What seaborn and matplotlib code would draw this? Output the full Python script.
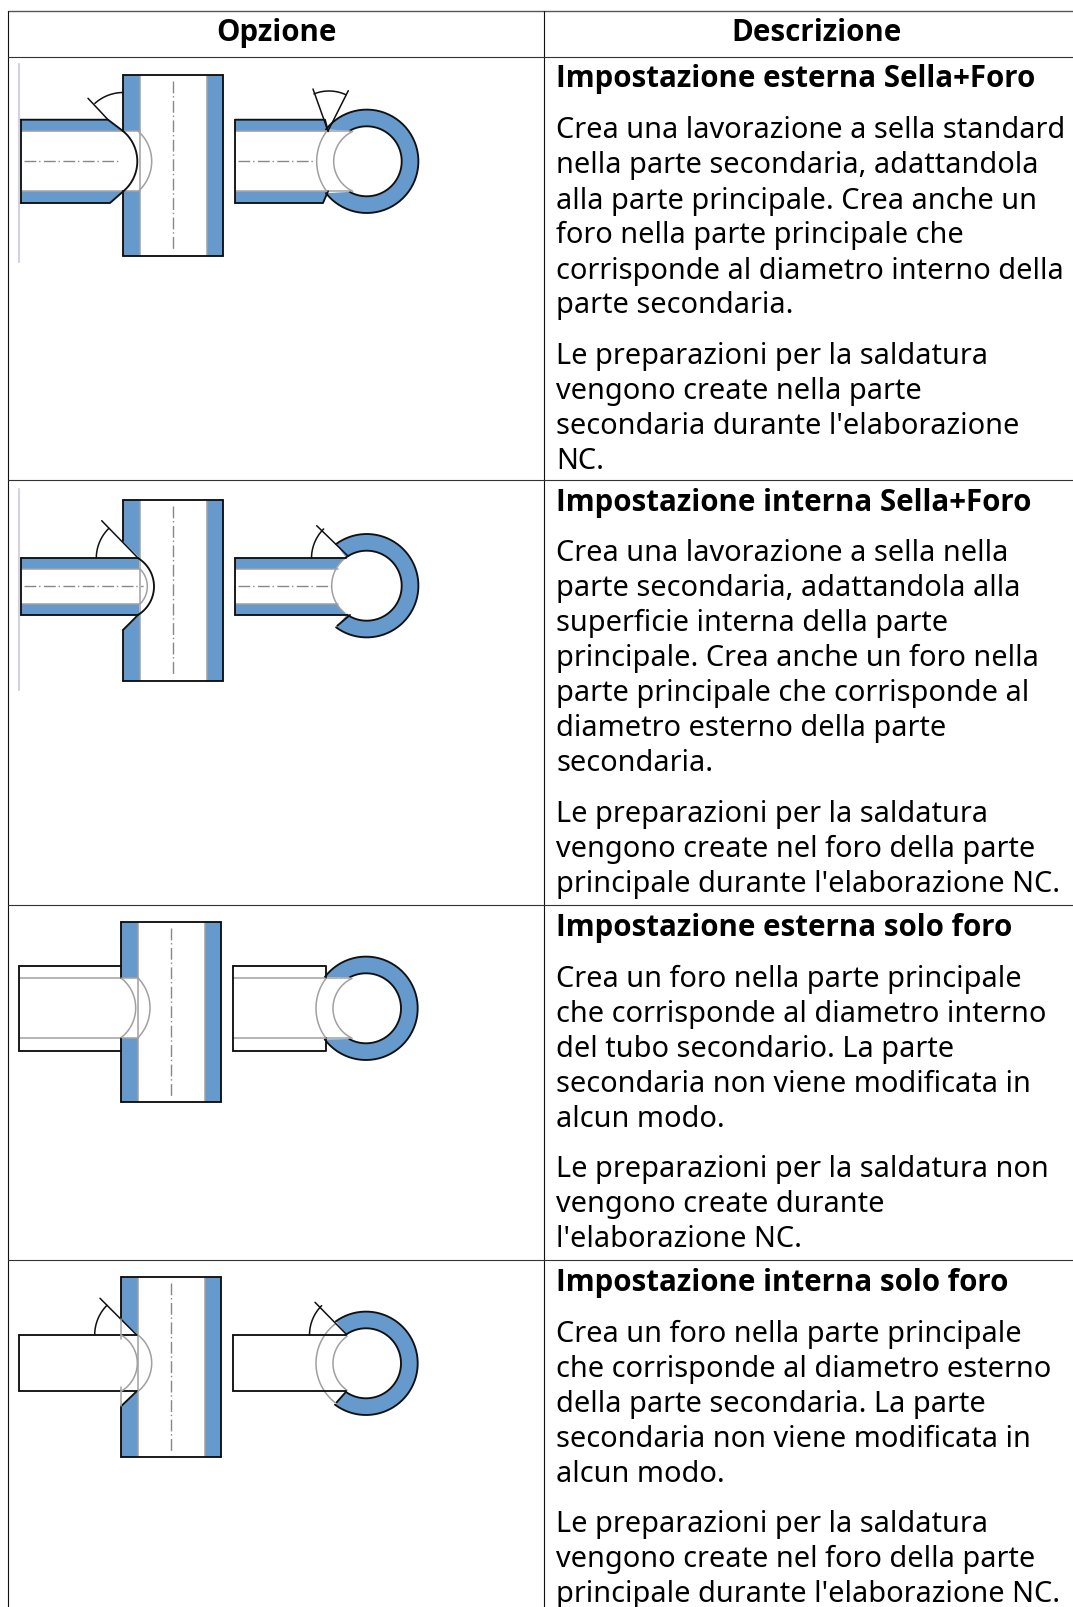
import numpy as np
import matplotlib
matplotlib.use("Agg")
import matplotlib.pyplot as plt
import seaborn as sns

# ── Table text ────────────────────────────────────────────────────────────────
headers = ["Opzione", "Descrizione"]
titles = [
    "Impostazione esterna Sella+Foro",
    "Impostazione interna Sella+Foro",
    "Impostazione esterna solo foro",
    "Impostazione interna solo foro",
]
first_paragraphs = [
    ["Crea una lavorazione a sella standard", "nella parte secondaria, adattandola",
     "alla parte principale. Crea anche un", "foro nella parte principale che",
     "corrisponde al diametro interno della", "parte secondaria."],
    ["Crea una lavorazione a sella nella", "parte secondaria, adattandola alla",
     "superficie interna della parte", "principale. Crea anche un foro nella",
     "parte principale che corrisponde al", "diametro esterno della parte",
     "secondaria."],
    ["Crea un foro nella parte principale", "che corrisponde al diametro interno",
     "del tubo secondario. La parte", "secondaria non viene modificata in",
     "alcun modo."],
    ["Crea un foro nella parte principale", "che corrisponde al diametro esterno",
     "della parte secondaria. La parte", "secondaria non viene modificata in",
     "alcun modo."],
]
second_paragraphs = [
    ["Le preparazioni per la saldatura", "vengono create nella parte",
     "secondaria durante l'elaborazione", "NC."],
    ["Le preparazioni per la saldatura", "vengono create nel foro della parte",
     "principale durante l'elaborazione NC."],
    ["Le preparazioni per la saldatura non", "vengono create durante",
     "l'elaborazione NC."],
    ["Le preparazioni per la saldatura", "vengono create nel foro della parte",
     "principale durante l'elaborazione NC."],
]
row_tops = [57.5, 480.5, 906, 1261]

BLUE = "#6699cc"
BLACK = "#111111"
GRAY = "#a0a0a0"
DASH = "#888888"

sns.set_theme(style="white")
plt.rcParams['font.family'] = ['Noto Sans', 'DejaVu Sans']

fig = plt.figure(figsize=(10.73, 16.08), dpi=100)
ax = fig.add_axes([0, 0, 1, 1])
ax.set_xlim(0, 1073)
ax.set_ylim(1608, 0)
ax.set_xticks([])
ax.set_yticks([])
sns.despine(ax=ax, left=True, bottom=True)
ax.spines[['top', 'right']].set_visible(False)


def line(xs, ys, color=BLACK, lw=1.35):
    ax.plot(xs, ys, color=color, lw=lw, solid_capstyle='round', solid_joinstyle='round')


def gray(xs, ys):
    line(xs, ys, color=GRAY, lw=1.1)


def centre(xs, ys):
    ax.plot(xs, ys, color=DASH, lw=1.0, linestyle=(0, (8.5, 2, 1, 2.5)))


def fill(xs, ys, color=BLUE):
    ax.fill(xs, ys, color=color, lw=0)


def arc(cx, cy, r, a0, a1):
    t = np.radians(np.linspace(a0, a1, 60))
    return cx + r * np.cos(t), cy - r * np.sin(t)


def bulge(x0, y0, y1, xm):
    # arc through (x0, y0), (xm, mid), (x0, y1), opening to the left
    h = (y1 - y0) / 2
    s = xm - x0
    r = (h ** 2 + s ** 2) / (2 * s)
    a = np.degrees(np.arcsin(h / r))
    return arc(xm - r, (y0 + y1) / 2, r, a, -a)


def angle_of(cx, cy, x, y):
    return np.degrees(np.arctan2(cy - y, x - cx))


def main_tube(x0, top, bottom, centre_pad=6):
    x1, x2, x3 = x0 + 16.7, x0 + 83.7, x0 + 100
    fill([x0, x1, x1, x0], [top, top, bottom, bottom])
    fill([x2, x3, x3, x2], [top, top, bottom, bottom])
    gray([x1, x1], [top, bottom])
    gray([x2, x2], [top, bottom])
    line([x0, x3], [top, top])
    line([x0, x3], [bottom, bottom])
    line([x3, x3], [top, bottom])
    centre([x0 + 50, x0 + 50], [top + centre_pad, bottom - centre_pad])


def ring(cx, cy, start, end, gap_top, gap_bottom, R=51.7, r=35):
    # blue section from the upper-left outer point round the right side
    a0 = angle_of(cx, cy, *start)
    a1 = angle_of(cx, cy, *end)
    b0 = angle_of(cx, cy, *gap_bottom)
    b1 = angle_of(cx, cy, *gap_top)
    ox, oy = arc(cx, cy, R, a0, a1)
    ix, iy = arc(cx, cy, r, b0, b1)
    fill(np.r_[ox, ix], np.r_[oy, iy])
    line(ox, oy)
    line(ix, iy)


# ── Row 1: esterna sella + foro ───────────────────────────────────────────────
line([19, 19], [65, 263], color="#d2d2e2", lw=1.5)
main_tube(123.3, 75.7, 256.7)
fill([122, 140, 140, 122], [132.3, 132.3, 192.3, 192.3], "white")
fill([20.7, 108, 123.3, 20.7], [120.7, 120.7, 132.3, 132.3])
fill([20.7, 110, 123.3, 20.7], [204, 204, 192.3, 192.3])
gray([20.7, 140], [132.3, 132.3])
gray([20.7, 140], [192.3, 192.3])
line([123.3, 123.3], [75.7, 132.3])
line([123.3, 123.3], [192.3, 256.7])
line([20.7, 108, 123.3], [120.7, 120.7, 132.3])
line([20.7, 110, 123.3], [204, 204, 192.3])
line([20.7, 20.7], [120.7, 204])
line(*bulge(123.3, 132.3, 192.3, 137.3))
gray(*bulge(138.3, 132.3, 192.3, 151.7))
line([88, 108], [99.3, 120.7], lw=1.1)
line(*arc(123.3, 136, 42.5, 90, 132), lw=1.1)
centre([24, 120], [162.3, 162.3])

fill([235, 325, 328, 235], [120.7, 120.7, 132.3, 132.3])
fill([235, 323, 328, 235], [204, 204, 192.3, 192.3])
ring(366.7, 162.3, (328, 132), (328, 192.6), (350, 132.3), (350, 192.3))
gray([235, 350], [132.3, 132.3])
gray([235, 350], [192.3, 192.3])
line([235, 325, 328], [120.7, 120.7, 132.3])
line([235, 323, 328], [204, 204, 192.3])
line([235, 235], [120.7, 204])
gray(*arc(366.7, 162.3, 50, 143, 217))
gray(*arc(366.7, 162.3, 33, 115, 245))
line([313, 328, 348.3], [90, 132, 91.7], lw=1.1)
line(*arc(329, 132, 40, 65, 112), lw=1.1)
centre([238, 316], [162.3, 162.3])

# ── Row 2: interna sella + foro ───────────────────────────────────────────────
line([19, 19], [490, 690.7], color="#d2d2e2", lw=1.5)
main_tube(123.3, 501, 681.7)
fill([122, 140, 140, 122], [541.7, 559.3, 615.7, 630.7], "white")
fill([122, 123.3, 123.3, 122], [541.7, 541.7, 630.7, 630.7], "white")
fill([20.7, 139, 139, 20.7], [559.3, 559.3, 615.7, 615.7])
fill([20.7, 140, 140, 20.7], [570, 570, 605, 605], "white")
gray([20.7, 140], [570, 570])
gray([20.7, 140], [605, 605])
line([123.3, 123.3], [501, 541.7])
line([123.3, 123.3], [630.7, 681.7])
line([101.7, 138.3], [521.7, 559.3], lw=1.1)
line([123.3, 138.3], [630.7, 615.7])
line([20.7, 138.3], [559.3, 559.3])
line([20.7, 138.3], [615.7, 615.7])
line([20.7, 20.7], [559.3, 615.7])
line(*bulge(138.3, 559.3, 615.7, 154))
gray(*bulge(140, 570, 605, 147.3))
line(*arc(138.3, 559.3, 42, 135, 180), lw=1.1)
centre([24, 143], [587.3, 587.3])

fill([235, 346, 346, 235], [559.3, 559.3, 615.7, 615.7])
fill([235, 340, 340, 235], [570, 570, 605, 605], "white")
fill(*arc(366.7, 586.7, 35, 0, 360), "white")
ring(366.7, 586.7, (338.3, 548.3), (337.3, 626.7), (346, 558.6), (347, 615.5))
gray([235, 338], [570, 570])
gray([235, 338], [605, 605])
gray(*arc(366.7, 586.7, 35, 129, 231))
line([235, 346], [559.3, 559.3])
line([235, 346], [615.7, 615.7])
line([235, 235], [559.3, 615.7])
line([316.7, 348.3], [526.7, 557.3], lw=1.1)
line([337.3, 350], [626.7, 616])
line(*arc(353, 559.3, 41.5, 135, 180), lw=1.1)
centre([238, 331], [587.3, 587.3])

# ── Row 3: esterna solo foro ──────────────────────────────────────────────────
main_tube(121, 922.7, 1103.3)
fill([120, 138, 138, 120], [979, 979, 1038.7, 1038.7], "white")
gray([19, 138], [979, 979])
gray([19, 138], [1038.7, 1038.7])
line([121, 121], [922.7, 979])
line([121, 121], [1038.7, 1103.3])
line([19, 121], [967.3, 967.3])
line([19, 121], [1051.7, 1051.7])
line([19, 19], [967.3, 1051.7])
gray(*bulge(121, 979, 1038.7, 135.7))
gray(*bulge(138, 979, 1038.7, 150))

ring(366, 1009.3, (326, 979), (326, 1039.5), (350, 979), (350, 1038.7))
gray([233.3, 350], [979, 979])
gray([233.3, 350], [1038.7, 1038.7])
line([233.3, 326, 326], [967.3, 967.3, 979])
line([233.3, 326, 326], [1051.7, 1051.7, 1038.7])
line([233.3, 233.3], [967.3, 1051.7])
gray(*arc(366, 1009.3, 50, 143, 217))
gray(*arc(366, 1009.3, 33, 115, 245))

# ── Row 4: interna solo foro ──────────────────────────────────────────────────
main_tube(121, 1277.7, 1458.3)
fill([120, 138, 138, 120], [1320, 1336, 1392.3, 1407.3], "white")
fill([120, 121, 121, 120], [1320, 1320, 1407.3, 1407.3], "white")
line([121, 121], [1277.7, 1320])
line([121, 121], [1407.3, 1458.3])
line([100, 136.7], [1299.3, 1336], lw=1.1)
line([121, 136.7], [1407.3, 1392.3])
line([19, 136.7], [1336, 1336])
line([19, 136.7], [1392.3, 1392.3])
line([19, 19], [1336, 1392.3])
gray(*bulge(121, 1336, 1392.3, 137.3))
gray(*bulge(138, 1336, 1392.3, 151.7))
gray([121, 121], [1320, 1340])
gray([121, 121], [1388, 1407])
line(*arc(136.7, 1336, 42, 135, 180), lw=1.1)

ring(366, 1364.3, (337.3, 1324.3), (336.7, 1403.3), (346, 1335.5), (346, 1392.8))
gray(*arc(366, 1364.3, 50, 128, 232))
gray(*arc(366, 1364.3, 33, 125, 235))
line([233.3, 346], [1336, 1336])
line([233.3, 346], [1392.3, 1392.3])
line([233.3, 233.3], [1336, 1392.3])
line([315, 346.7], [1303.3, 1335.7], lw=1.1)
line([336.7, 346], [1403.3, 1392.8])
line(*arc(351, 1336, 41.5, 135, 180), lw=1.1)

# ── Table rules ───────────────────────────────────────────────────────────────
ax.plot([7.5, 1073], [12, 12], color="#555555", lw=1.0)
ax.plot([7.5, 7.5], [12, 1608], color=BLACK, lw=0.8)
ax.plot([544, 544], [12, 1608], color=BLACK, lw=0.8)
for top in row_tops:
    ax.plot([7.5, 1073], [top, top], color="#333333", lw=0.8)

# ── Table text ────────────────────────────────────────────────────────────────
SIZE = 20.8
BOLD_SIZE = 21.25
LEADING = 35
BOLD_FONT = ['Open Sans', 'Noto Sans']
ax.text(276, 41, headers[0], ha='center', va='baseline', fontsize=BOLD_SIZE, fontweight='bold', family=BOLD_FONT, color='black')
ax.text(817, 41, headers[1], ha='center', va='baseline', fontsize=BOLD_SIZE, fontweight='bold', family=BOLD_FONT, color='black')
for top, title, para1, para2 in zip(row_tops, titles, first_paragraphs, second_paragraphs):
    ax.text(556, top + 30, title, va='baseline', fontsize=BOLD_SIZE, fontweight='bold', family=BOLD_FONT, color='black')
    y = top + 81
    for txt in para1:
        ax.text(556, y, txt, va='baseline', fontsize=SIZE, color='black')
        y += LEADING
    y += 15.5
    for txt in para2:
        ax.text(556, y, txt, va='baseline', fontsize=SIZE, color='black')
        y += LEADING

fig.savefig("out.png", dpi=100)
